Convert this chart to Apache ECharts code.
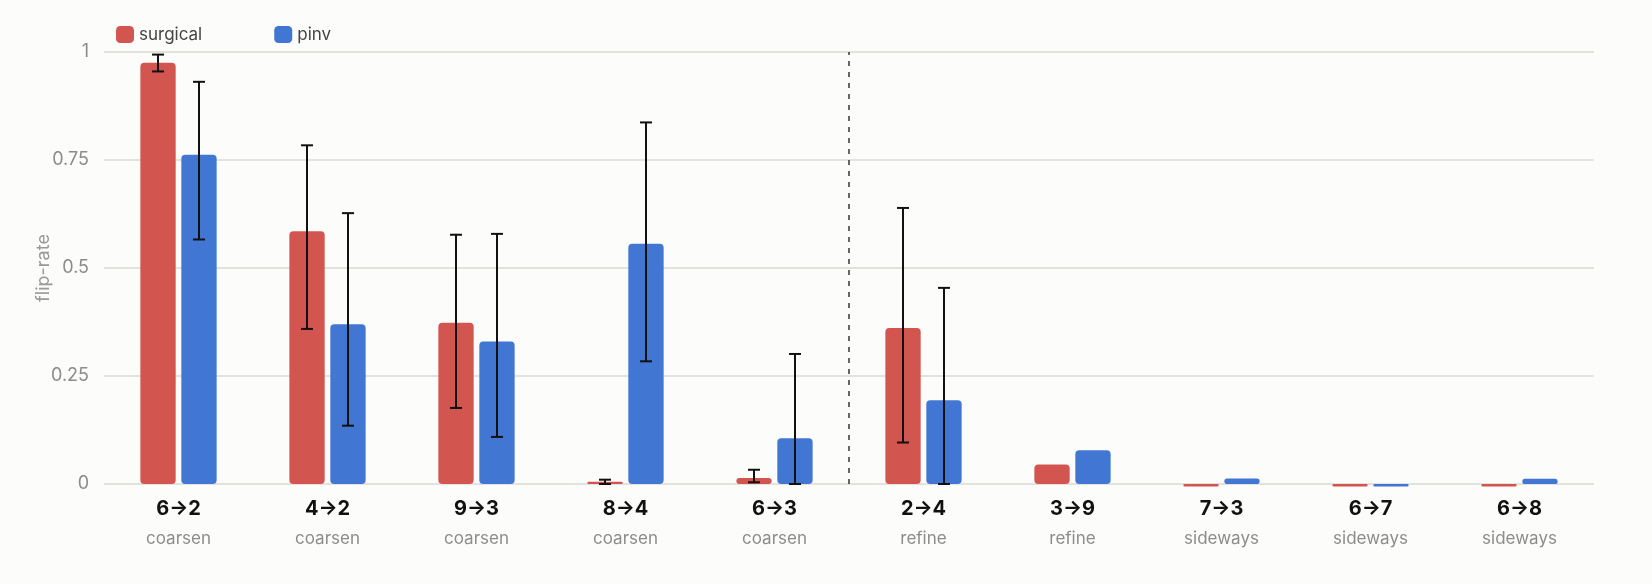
<!DOCTYPE html>
<html>
<head>
<meta charset="utf-8">
<script src="https://cdn.jsdelivr.net/npm/echarts@6/dist/echarts.min.js"></script>
<style>
  html, body { margin: 0; padding: 0; background: #fcfcfa; }
  #chart { width: 1652px; height: 584px; }
</style>
</head>
<body>
<div id="chart"></div>
<script>
const transitions = ["6→2", "4→2", "9→3", "8→4", "6→3", "2→4", "3→9", "7→3", "6→7", "6→8"];
const kinds = ["coarsen", "coarsen", "coarsen", "coarsen", "coarsen", "refine", "refine", "sideways", "sideways", "sideways"];

const surgical = [0.975, 0.585, 0.373, 0.005, 0.014, 0.361, 0.045, -0.006, -0.006, -0.006];
const surgicalLow = [0.955, 0.359, 0.176, 0.0, 0.004, 0.096, null, null, null, null];
const surgicalHigh = [0.994, 0.784, 0.577, 0.01, 0.033, 0.639, null, null, null, null];

const pinv = [0.762, 0.370, 0.330, 0.556, 0.106, 0.194, 0.078, 0.013, -0.006, 0.012];
const pinvLow = [0.566, 0.135, 0.109, 0.284, 0.0, 0.0, null, null, null, null];
const pinvHigh = [0.931, 0.627, 0.579, 0.837, 0.301, 0.454, null, null, null, null];

const yTicks = [0, 0.25, 0.5, 0.75, 1];
const splitAt = 5; // boundary between coarsen and refine

const RED = "#d25550";
const BLUE = "#4177d2";
const BAR_W = 0.237;
const BAR_GAP = 0.038;

function errorData(low, high) {
  const out = [];
  low.forEach((lo, i) => {
    if (lo !== null && high[i] !== null) out.push([i, lo, high[i]]);
  });
  return out;
}

function errorBar(side) {
  return function (params, api) {
    const idx = api.value(0);
    const band = api.size([1, 0])[0];
    const dx = side * band * (BAR_W + BAR_GAP) / 2;
    const hi = api.coord([idx, api.value(2)]);
    const lo = api.coord([idx, api.value(1)]);
    const x = hi[0] + dx;
    const cap = 6;
    const style = { stroke: "#111", lineWidth: 2 };
    return {
      type: "group",
      children: [
        { type: "line", shape: { x1: x, y1: hi[1], x2: x, y2: lo[1] }, style },
        { type: "line", shape: { x1: x - cap, y1: hi[1], x2: x + cap, y2: hi[1] }, style },
        { type: "line", shape: { x1: x - cap, y1: lo[1], x2: x + cap, y2: lo[1] }, style },
      ],
    };
  };
}

const chart = echarts.init(document.getElementById("chart"));

const options = {
  backgroundColor: "#fcfcfa",
  textStyle: { fontFamily: "Inter, Roboto, sans-serif" },
  animation: false,
  legend: {
    left: 111,
    top: 21,
    itemWidth: 18,
    itemHeight: 17,
    itemGap: 72,
    icon: "roundRect",
    data: ["surgical", "pinv"],
    textStyle: { fontSize: 17, color: "#444" },
  },
  grid: { left: 104, right: 58, top: 52, bottom: 100 },
  xAxis: [
    {
      type: "category",
      data: transitions,
      axisLine: { show: false },
      axisTick: { show: false },
      axisLabel: {
        margin: 10,
        formatter: (value, i) => `{a|${value}}\n{b|${kinds[i]}}`,
        rich: {
          a: { fontSize: 20, fontWeight: "bold", color: "#111", lineHeight: 30 },
          b: { fontSize: 17, color: "#8c8c8c", lineHeight: 30 },
        },
      },
    },
    {
      type: "value",
      min: 0,
      max: transitions.length,
      show: false,
    },
  ],
  yAxis: {
    type: "value",
    min: yTicks[0],
    max: yTicks[yTicks.length - 1],
    interval: 0.25,
    name: "flip-rate",
    nameLocation: "middle",
    nameGap: 51,
    nameMoveOverlap: false,
    nameTextStyle: { fontSize: 18, color: "#999" },
    axisLine: { show: false },
    axisTick: { show: false },
    axisLabel: {
      fontSize: 18,
      color: "#8c8c8c",
      margin: 15,
      formatter: (v) => String(v),
    },
    splitLine: { lineStyle: { color: "#e3e3de", width: 2 } },
  },
  series: [
    {
      name: "surgical",
      type: "bar",
      data: surgical,
      barWidth: (BAR_W * 100) + "%",
      barGap: Math.round(BAR_GAP / BAR_W * 100) + "%",
      clip: false,
      itemStyle: { color: RED, borderRadius: 4 },
    },
    {
      name: "pinv",
      type: "bar",
      data: pinv,
      barWidth: (BAR_W * 100) + "%",
      clip: false,
      itemStyle: { color: BLUE, borderRadius: 4 },
    },
    {
      name: "surgical-err",
      type: "custom",
      renderItem: errorBar(-1),
      data: errorData(surgicalLow, surgicalHigh),
      encode: { x: 0, y: [1, 2] },
      z: 5,
      clip: false,
    },
    {
      name: "pinv-err",
      type: "custom",
      renderItem: errorBar(1),
      data: errorData(pinvLow, pinvHigh),
      encode: { x: 0, y: [1, 2] },
      z: 5,
      clip: false,
    },
    {
      name: "split",
      type: "line",
      xAxisIndex: 1,
      data: [],
      markLine: {
        symbol: "none",
        silent: true,
        label: { show: false },
        lineStyle: { color: "#333", type: [5, 6], width: 1.5 },
        data: [[{ coord: [splitAt, 0] }, { coord: [splitAt, 1] }]],
      },
    },
  ],
};

chart.setOption(options);
</script>
</body>
</html>
